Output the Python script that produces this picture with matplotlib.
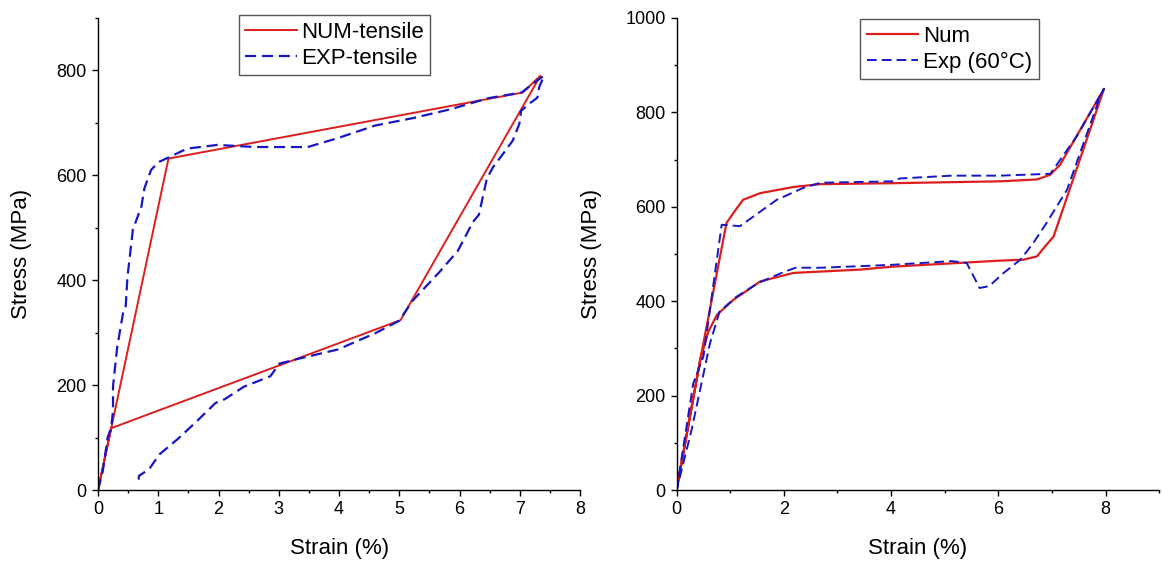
import numpy as np
import matplotlib.pyplot as plt
from matplotlib.ticker import MultipleLocator

plt.rcParams['font.family'] = ['Liberation Sans', 'DejaVu Sans']

RED = '#dc1e1e'
BLUE = '#1616c8'

# left panel: tensile test
num_l_x = [0, 0.22, 1.17, 7.05, 7.34, 5.02, 0.22, 0]
num_l_y = [0, 118, 632, 758, 790, 324, 118, 0]

exp_l_x = [0, 0.08, 0.16, 0.22, 0.25, 0.25, 0.32, 0.42, 0.46, 0.49, 0.58, 0.72,
           0.77, 0.88, 1.0, 1.17, 1.48, 1.98, 2.6, 3.48, 3.98, 4.6, 5.22, 5.85,
           6.47, 7.03, 7.24, 7.40, 7.32, 7.29, 7.16, 7.02, 6.99, 6.88, 6.72, 6.55,
           6.45, 6.32, 6.22, 5.97, 5.66, 5.22, 5.0, 4.6, 3.98, 3.35, 3.01, 2.86,
           2.42, 2.1, 1.95, 1.61, 1.32, 1.02, 0.85, 0.68, 0.67]
exp_l_y = [0, 36, 100, 119, 151, 198, 273, 340, 350, 407, 497, 540,
           575, 610, 625, 634, 651, 658, 654, 654, 671, 695, 709, 726,
           747, 758, 777, 790, 768, 748, 737, 723, 698, 666, 641, 615,
           593, 525, 511, 456, 415, 361, 323, 299, 268, 251, 241, 217,
           197, 173, 166, 128, 97, 68, 40, 27, 11]

# right panel: 60 degC
num_r_x = [0, 0.44, 0.93, 1.11, 1.24, 1.56, 2.18, 2.68, 4.0, 6.03, 6.72, 6.97,
           7.15, 7.97, 7.03, 6.87, 6.72, 6.47, 6.03, 4.0, 3.42, 2.18, 1.56, 1.06,
           0.75, 0.59, 0.44, 0]
num_r_y = [0, 276, 566, 595, 615, 629, 642, 648, 650, 654, 658, 668,
           689, 850, 537, 516, 495, 488, 486, 473, 467, 460, 442, 403,
           371, 335, 276, 0]

exp_r_x = [0, 0.31, 0.5, 0.84, 1.18, 1.87, 2.36, 2.68, 4.04, 4.16, 5.13, 6.03,
           6.97, 7.46, 7.97, 7.9, 7.28, 6.9, 6.65, 6.41, 6.1, 5.83, 5.65, 5.41,
           5.13, 4.0, 2.7, 2.22, 2.0, 1.53, 1.11, 0.8, 0.62, 0.28, 0]
exp_r_y = [0, 226, 283, 562, 559, 615, 640, 651, 654, 660, 666, 666,
           670, 749, 850, 834, 636, 566, 523, 488, 460, 432, 428, 481,
           485, 477, 471, 471, 462, 439, 409, 378, 310, 128, 0]

fig = plt.figure(figsize=(11.62, 5.62), dpi=100)
ax1 = fig.add_axes([0.0843, 0.128, 0.415, 0.84])
ax2 = fig.add_axes([0.5823, 0.128, 0.4153, 0.84])

ax1.plot(num_l_x, num_l_y, color=RED, lw=1.4, label='NUM-tensile')
ax1.plot(exp_l_x, exp_l_y, color=BLUE, lw=1.6, ls=(0, (5, 2.6)), label='EXP-tensile')
ax2.plot(num_r_x, num_r_y, color=RED, lw=1.6, label='Num')
ax2.plot(exp_r_x, exp_r_y, color=BLUE, lw=1.4, ls=(0, (5, 2.6)), label='Exp (60°C)')

ax1.set_xlim(0, 8)
ax1.set_ylim(0, 900)
ax1.xaxis.set_major_locator(MultipleLocator(1))
ax1.xaxis.set_minor_locator(MultipleLocator(0.5))
ax1.yaxis.set_major_locator(MultipleLocator(200))
ax1.yaxis.set_minor_locator(MultipleLocator(100))

ax2.set_xlim(0, 9)
ax2.set_ylim(0, 1000)
ax2.set_xticks([0, 2, 4, 6, 8])
ax2.xaxis.set_minor_locator(MultipleLocator(1))
ax2.yaxis.set_major_locator(MultipleLocator(200))
ax2.yaxis.set_minor_locator(MultipleLocator(100))

for ax in (ax1, ax2):
    for s in ('top', 'right'):
        ax.spines[s].set_visible(False)
    for s in ('left', 'bottom'):
        ax.spines[s].set_linewidth(1.0)
    ax.tick_params(which='major', length=4.5, width=1.0, labelsize=13)
    ax.tick_params(which='minor', length=2.5, width=1.0)
    ax.set_xlabel('Strain (%)', fontsize=16)
    ax.set_ylabel('Stress (MPa)', fontsize=16)
    ax.xaxis.set_label_coords(0.5, -0.102)

ax1.yaxis.set_label_coords(-0.137, 0.5)
ax2.yaxis.set_label_coords(-0.155, 0.5)

for ax, anchor in ((ax1, (0.292, 1.006)), (ax2, (0.381, 0.998))):
    leg = ax.legend(loc='upper left', bbox_to_anchor=anchor, fontsize=16,
                    fancybox=False, framealpha=1, edgecolor='#555555',
                    handlelength=2.3, handletextpad=0.2, borderpad=0.3,
                    labelspacing=0.22, borderaxespad=0)
    leg.get_frame().set_linewidth(1.0)

fig.savefig('out.png', dpi=100)
